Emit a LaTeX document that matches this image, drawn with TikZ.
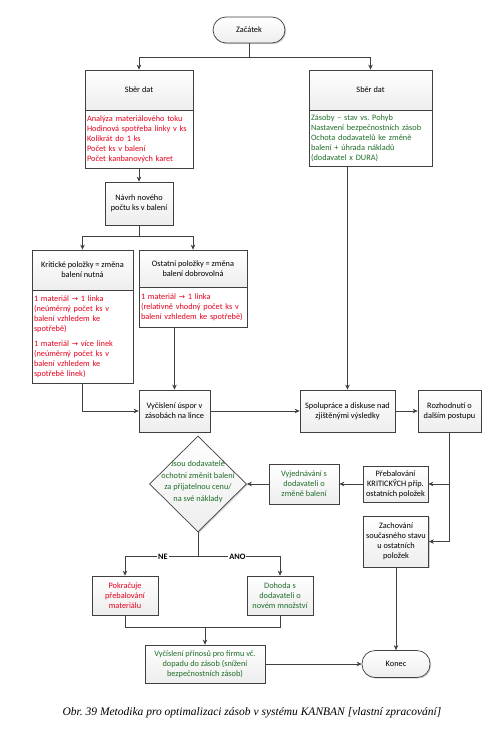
\documentclass[tikz,border=0pt]{standalone}
\usepackage{fontspec}
\setmainfont{Carlito}
\newfontfamily\capfont{Liberation Serif}
\newfontfamily\arrfont{DejaVu Sans}
\newcommand{\rarr}{{\arrfont\fontsize{7.5}{10}\selectfont →}}
\frenchspacing
\usetikzlibrary{shapes.geometric,arrows.meta,shadows,calc}
\definecolor{txtred}{RGB}{232,0,28}
\definecolor{txtgreen}{RGB}{30,110,40}
\definecolor{edgegray}{RGB}{64,64,64}
\begin{document}
\begin{tikzpicture}[x=1pt,y=-1pt,
  every node/.style={font=\fontsize{8.3}{10}\selectfont},
  shd/.style={drop shadow={shadow xshift=1.2pt,shadow yshift=-1.2pt,opacity=0.35,fill=gray}},
  box/.style={draw=edgegray, line width=0.7pt, top color=white, bottom color=gray!14, shd, align=center, inner sep=2pt},
  bodybox/.style={draw=edgegray, line width=0.7pt, fill=white, shd, align=left, inner sep=2pt},
  term/.style={box, rounded corners=13pt},
  dia/.style={diamond, draw=edgegray, line width=0.7pt, top color=white, bottom color=gray!14, shd, inner sep=0pt},
  conn/.style={draw=edgegray, line width=0.7pt},
  arr/.style={conn, -{Stealth[length=5pt,width=4.5pt]}},
  lab/.style={fill=white, inner sep=1pt, font=\fontsize{8.3}{10}\selectfont\bfseries}
]
\useasboundingbox (0,0) rectangle (499,749);

\node[term, minimum width=72pt, minimum height=26pt] (start) at (249,30) {Začátek};

\node[box, minimum width=108pt, minimum height=40pt] (s1h) at (139,90) {Sběr dat};
\node[bodybox, text=txtred, text width=104pt, minimum height=58pt] (s1b) at (139,139) {Analýza materiálového toku\\Hodinová spotřeba linky v ks\\Kolikrát do 1 ks\\Počet ks v balení\\Počet kanbanových karet};

\node[box, minimum width=123pt, minimum height=40pt] (s2h) at (370.5,90) {Sběr dat};
\node[bodybox, text=txtgreen, text width=119pt, minimum height=56pt] (s2b) at (370.5,138) {Zásoby -- stav vs. Pohyb\\Nastavení bezpečnostních zásob\\Ochota dodavatelů ke změně\\balení + úhrada nákladů\\(dodavatel x DURA)};

\node[box, minimum width=68pt, minimum height=43pt] (navrh) at (139,203.5) {Návrh nového\\počtu ks v balení};

\node[box, minimum width=101pt, minimum height=40pt] (krith) at (82.5,270) {Kritické položky = změna\\balení nutná};
\node[bodybox, text=txtred, text width=97pt, minimum height=93pt] (kritb) at (82.5,336.5) {1 materiál \rarr{} 1 linka\\(neúměrný počet ks v\\balení vzhledem ke\\spotřebě)\\[5pt]1 materiál \rarr{} více linek\\(neúměrný počet ks v\\balení vzhledem ke\\spotřebě linek)};

\node[box, minimum width=108pt, minimum height=37pt] (osth) at (193,268.5) {Ostatní položky = změna\\balení dobrovolná};
\node[bodybox, text=txtred, text width=104pt, minimum height=40pt] (ostb) at (193,307) {1 materiál \rarr{} 1 linka\\(relativně vhodný počet ks v\\balení vzhledem ke spotřebě)};

\node[box, minimum width=71pt, minimum height=42pt] (vyc) at (174.5,411) {Vyčíslení úspor v\\zásobách na lince};
\node[box, minimum width=95pt, minimum height=42pt] (spol) at (347.5,411) {Spolupráce a diskuse nad\\zjištěnými výsledky};
\node[box, minimum width=63pt, minimum height=42pt] (rozh) at (449.5,411) {Rozhodnutí o\\dalším postupu};

\node[dia, minimum width=97pt, minimum height=96pt] (dec) at (198,484) {\makebox[0pt]{\smash{\parbox[c]{90pt}{\centering\fontsize{8.3}{11.5}\selectfont\color{txtgreen}Jsou dodavatelé\\ochotni změnit balení\\za přijatelnou cenu/\\na své náklady}}}};
\node[box, text=txtgreen, minimum width=70pt, minimum height=40pt] (vyje) at (304,484) {Vyjednávání s\\dodavateli o\\změně balení};
\node[box, minimum width=65pt, minimum height=36pt] (preb) at (395.5,484) {Přebalování\\KRITICKÝCH příp.\\ostatních položek};
\node[box, minimum width=65pt, minimum height=51pt] (zach) at (396,541.5) {Zachování\\současného stavu\\u ostatních\\položek};

\node[box, text=txtred, minimum width=66pt, minimum height=39pt] (pokr) at (125,595.5) {Pokračuje\\přebalování\\materiálu};
\node[box, text=txtgreen, minimum width=66pt, minimum height=39pt] (doho) at (280,595.5) {Dohoda s\\dodavateli o\\novém množství};
\node[box, text=txtgreen, minimum width=120pt, minimum height=38pt] (prin) at (205,664) {Vyčíslení přínosů pro firmu vč.\\dopadu do zásob (snížení\\bezpečnostních zásob)};
\node[term, minimum width=68pt, minimum height=27pt] (konec) at (396,664) {Konec};

\node[font=\capfont\itshape\fontsize{11.5}{13}\selectfont] (cap) at (252,713) {Obr. 39 Metodika pro optimalizaci zásob v systému KANBAN [vlastní zpracování]};

% connectors
\coordinate (j1) at ($(start.south)+(0,14)$);
\draw[conn] (start.south) -- (j1);
\draw[arr] (j1) -| (s1h.north);
\draw[arr] (j1) -| (s2h.north);
\draw[arr] (s1b.south) -- (navrh.north);
\coordinate (j2) at ($(navrh.south)+(0,11)$);
\draw[conn] (navrh.south) -- (j2);
\draw[arr] (j2) -| (krith.north);
\draw[arr] (j2) -| (osth.north);
\draw[arr] (kritb.south) |- (vyc.west);
\draw[arr] (vyc.north |- ostb.south) -- (vyc.north);
\draw[arr] (spol.north |- s2b.south) -- (spol.north);
\draw[arr] (vyc.east) -- (spol.west);
\draw[arr] (spol.east) -- (rozh.west);
\draw[arr] (rozh.south) |- (preb.east);
\draw[arr] (rozh.south) |- (zach.east);
\draw[arr] (preb.west) -- (vyje.east);
\draw[arr] (vyje.west) -- (dec.east);
\coordinate (j3) at ($(dec.south)+(0,24)$);
\draw[conn] (dec.south) -- (j3);
\draw[arr] (j3) -| node[lab, pos=0.24] {NE} (pokr.north);
\draw[arr] (j3) -| node[lab, pos=0.24] {ANO} (doho.north);
\coordinate (j4) at ($(prin.north)+(0,-17)$);
\draw[conn] (pokr.south) |- (j4);
\draw[conn] (doho.south) |- (j4);
\draw[arr] (j4) -- (prin.north);
\draw[arr] (zach.south) -- (konec.north);
\draw[arr] (prin.east) -- (konec.west);
\end{tikzpicture}
\end{document}
